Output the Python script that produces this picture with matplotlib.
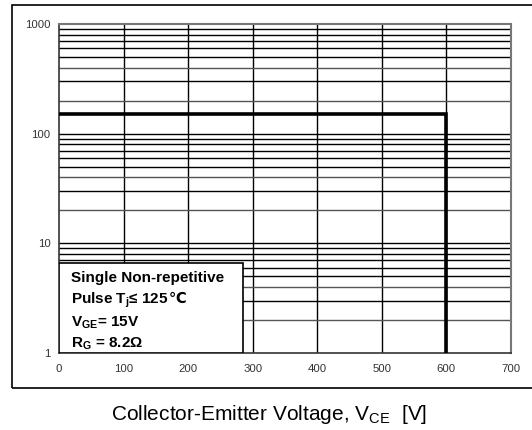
import numpy as np
import matplotlib
matplotlib.use('Agg')
import matplotlib.pyplot as plt
from matplotlib.patches import Rectangle

plt.rcParams['mathtext.fontset'] = 'custom'
plt.rcParams['mathtext.rm'] = 'Liberation Sans'
plt.rcParams['mathtext.bf'] = 'Liberation Sans:bold'

# safe operating area limit (single pulse)
vce = [0, 600, 600]
ic = [150, 150, 1]

x_ticks = [0, 100, 200, 300, 400, 500, 600, 700]
y_ticks = [1, 10, 100, 1000]
y_ticklabels = ['1', '10', '100', '1000']

box_lines = ['Single Non-repetitive',
             r'Pulse T$_{\mathbf{j}}$' + '\u2264 125',
             r'V$_{\mathbf{GE}}$= 15V',
             r'R$_{\mathbf{G}}$ = 8.2' + '\u03a9']
deg_sign = '\u2103'

fig = plt.figure(figsize=(5.32, 4.30), dpi=100)
W, H = 532., 430.

# outer frame (runs off the right edge)
fig.patches.append(Rectangle((12/W, 1 - 388/H), 540/W, (388 - 5)/H,
                             transform=fig.transFigure, fill=False,
                             lw=1.2, ec='black'))

ax = fig.add_axes([59/W, 1 - 353/H, (511 - 59)/W, (353 - 24)/H])
ax.set_yscale('log')
ax.set_xlim(0, 700)
ax.set_ylim(1, 1000)

# grid
for xv in x_ticks[1:-1]:
    ax.axvline(xv, color='black', lw=1.0, zorder=1)
for dec in [1, 10, 100]:
    for m in range(2, 10):
        c = '#555555' if m in (2, 4) else 'black'
        ax.axhline(dec * m, color=c, lw=1.0, zorder=1)
for yv in [10, 100]:
    ax.axhline(yv, color='black', lw=1.0, zorder=1)

ax.plot(vce, ic, color='black', lw=2.6, zorder=3, solid_joinstyle='miter')

for s in ['left', 'bottom']:
    ax.spines[s].set_color('#333333')
    ax.spines[s].set_linewidth(1.2)
for s in ['top', 'right']:
    ax.spines[s].set_color('#777777')
    ax.spines[s].set_linewidth(1.5)

ax.set_xticks(x_ticks)
ax.set_xticklabels([str(v) for v in x_ticks], family='Liberation Sans')
ax.set_yticks(y_ticks)
ax.set_yticklabels(y_ticklabels, family='Liberation Sans')
ax.minorticks_off()
ax.tick_params(axis='both', length=0, labelsize=8.2, labelcolor='#333333', pad=8)
ax.tick_params(axis='y', pad=6)

# annotation box
ax.add_patch(Rectangle((0, 1), 285, 5.6, fill=True, fc='white',
                       ec='black', lw=1.2, zorder=4))
ys = [4.47, 2.84, 1.76, 1.12]
txts = []
for t, yv in zip(box_lines, ys):
    txts.append(ax.text(19, yv, t, fontsize=11, fontweight='bold',
                        family='Liberation Sans', va='baseline', ha='left', zorder=5))

# the degree-Celsius glyph is not in Liberation, so put it after line 2 in DejaVu
fig.canvas.draw()
bb = txts[1].get_window_extent()
x_end = ax.transData.inverted().transform((bb.x1, bb.y0))[0]
ax.text(x_end, ys[1], deg_sign, fontsize=10.5, fontweight='bold',
        family='DejaVu Sans', va='baseline', ha='left', zorder=5)

fig.text(269/W, 1 - 415/H, r'Collector-Emitter Voltage, V$_{\mathrm{CE}}$  [V]',
         ha='center', va='center', fontsize=15, family='Liberation Sans')

plt.savefig('out.png', dpi=100)
